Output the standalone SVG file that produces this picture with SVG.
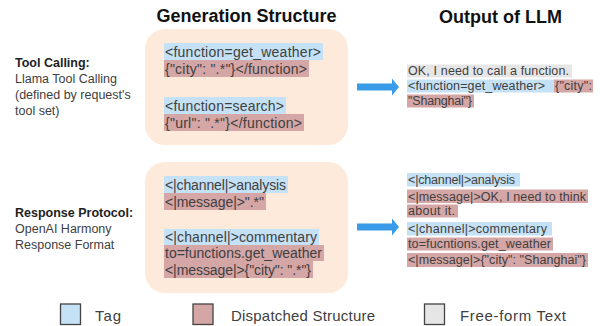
<svg xmlns="http://www.w3.org/2000/svg" width="600" height="326" viewBox="0 0 600 326">
<style>
text{font-family:"Liberation Sans",Arial,sans-serif;fill:#404040}
.title{font-size:18px;font-weight:bold;fill:#111;text-anchor:middle}
.lab{font-size:12.5px}
.labb{font-size:12.5px;font-weight:bold;fill:#222}
.code{font-size:14px}
.out{font-size:12.5px}
.leg{font-size:15px}
.box{fill:#FDEADA}
.tag{fill:#C5E1F5}
.dis{fill:#D5A6A6}
.free{fill:#E6E6E6}
.sq{stroke:#444;stroke-width:1.3}
.arr{stroke:#3A9BE8;stroke-width:7;fill:none}
</style>
<defs>
<marker id="ah" markerUnits="userSpaceOnUse" markerWidth="8" markerHeight="18" refX="0" refY="8.5" orient="auto">
<path d="M0,0 L7,8.5 L0,17 z" fill="#3A9BE8"/>
</marker>
</defs>
<rect width="600" height="326" fill="#fff"/>

<g id="titles">
<text class="title" x="246.5" y="22">Generation Structure</text>
<text class="title" x="500.5" y="23">Output of LLM</text>
</g>

<g id="label-tool">
<text class="labb" x="15" y="67">Tool Calling:</text>
<text class="lab" x="15" y="83">Llama Tool Calling</text>
<text class="lab" x="15" y="99">(defined by request's</text>
<text class="lab" x="15" y="115">tool set)</text>
</g>

<g id="label-resp">
<text class="labb" x="15" y="217">Response Protocol:</text>
<text class="lab" x="15" y="233">OpenAI Harmony</text>
<text class="lab" x="15" y="249">Response Format</text>
</g>

<g id="gen-tool">
<rect class="box" x="145" y="29" width="203" height="116" rx="20"/>
<rect class="tag" x="164" y="43" width="159" height="17"/>
<text class="code" x="165" y="56.5" textLength="156">&lt;function=get_weather&gt;</text>
<rect class="dis" x="164" y="60" width="145" height="17"/>
<text class="code" x="165" y="73.5" textLength="142">{"city": ".*"}&lt;/function&gt;</text>
<rect class="tag" x="164" y="97" width="122" height="17"/>
<text class="code" x="165" y="110.5" textLength="119">&lt;function=search&gt;</text>
<rect class="dis" x="164" y="114" width="140" height="17"/>
<text class="code" x="165" y="127.5" textLength="137">{"url": ".*"}&lt;/function&gt;</text>
</g>

<g id="gen-resp">
<rect class="box" x="145" y="162" width="203" height="131" rx="20"/>
<rect class="tag" x="164" y="176" width="124" height="17"/>
<text class="code" x="165" y="189.5" textLength="121">&lt;|channel|&gt;analysis</text>
<rect class="dis" x="164" y="193" width="102" height="17"/>
<text class="code" x="165" y="206.5" textLength="99">&lt;|message|&gt;".*"</text>
<rect class="tag" x="164" y="229" width="155" height="16"/>
<text class="code" x="165" y="242" textLength="152">&lt;|channel|&gt;commentary</text>
<rect class="dis" x="164" y="245" width="160" height="16"/>
<text class="code" x="165" y="258" textLength="157">to=functions.get_weather</text>
<rect class="dis" x="164" y="261" width="149" height="17"/>
<text class="code" x="165" y="274.5" textLength="146">&lt;|message|&gt;{"city": ".*"}</text>
</g>

<g id="out-tool">
<rect class="free" x="407" y="64.5" width="165" height="13"/>
<text class="out" x="408" y="75" textLength="161">OK, I need to call a function.</text>
<rect class="tag" x="407" y="79.5" width="147" height="13"/>
<text class="out" x="408" y="90" textLength="137">&lt;function=get_weather&gt;</text>
<rect class="dis" x="554" y="79.5" width="39" height="13"/>
<text class="out" x="555" y="90" textLength="37">{"city":</text>
<rect class="dis" x="407" y="94.5" width="67" height="13"/>
<text class="out" x="408" y="105" textLength="64">"Shanghai"}</text>
</g>

<g id="out-resp">
<rect class="tag" x="407" y="173" width="113" height="13.5"/>
<text class="out" x="408" y="184" textLength="107">&lt;|channel|&gt;analysis</text>
<rect class="dis" x="407" y="189.5" width="181" height="13.5"/>
<text class="out" x="408" y="200.5" textLength="178">&lt;|message|&gt;OK, I need to think</text>
<rect class="dis" x="407" y="204.5" width="51" height="13"/>
<text class="out" x="408" y="215" textLength="47">about it.</text>
<rect class="tag" x="407" y="222" width="145" height="13.5"/>
<text class="out" x="408" y="233" textLength="139">&lt;|channel|&gt;commentary</text>
<rect class="dis" x="407" y="237.5" width="146" height="13"/>
<text class="out" x="408" y="248" textLength="143">to=fucntions.get_weather</text>
<rect class="dis" x="407" y="253" width="181" height="14"/>
<text class="out" x="408" y="264" textLength="178">&lt;|message|&gt;{"city": "Shanghai"}</text>
</g>

<g id="connectors">
<line class="arr" x1="357" y1="87" x2="392" y2="87" marker-end="url(#ah)"/>
<line class="arr" x1="357" y1="227" x2="392" y2="227" marker-end="url(#ah)"/>
</g>

<g id="legend">
<rect class="tag sq" x="60.5" y="304" width="20" height="20.5"/>
<text class="leg" x="95" y="321" textLength="26">Tag</text>
<rect class="dis sq" x="193" y="304" width="20" height="20.5"/>
<text class="leg" x="231" y="321" textLength="144">Dispatched Structure</text>
<rect class="free sq" x="424.5" y="304" width="20" height="20.5"/>
<text class="leg" x="460" y="321" textLength="106">Free-form Text</text>
</g>
</svg>
